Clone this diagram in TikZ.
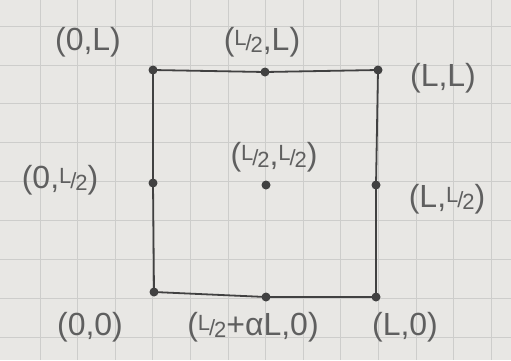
\documentclass[tikz,border=0pt]{standalone}
\usepackage{fontspec}
\setmainfont{Liberation Sans}
\definecolor{paper}{RGB}{232,231,228}
\definecolor{gridc}{RGB}{205,205,203}
\definecolor{ink}{RGB}{65,65,65}
\definecolor{pencil}{RGB}{95,95,95}
\newcommand\fr[2]{{\fontsize{22}{22}\selectfont\raisebox{0.4ex}{#1}\kern-0.05em/\kern-0.05em\raisebox{-0.2ex}{#2}}}
\tikzset{
  pt/.style={circle,fill=ink,inner sep=0pt,minimum size=9pt},
  lab/.style={text=pencil,font=\fontsize{32}{36}\selectfont,inner sep=1pt},
  side/.style={draw=ink,line width=1.8pt}
}
\begin{document}
\begin{tikzpicture}[x=1pt,y=-1pt]
\fill[paper] (0,0) rectangle (511,360);
\useasboundingbox (0,0) rectangle (511,360);
\foreach \i in {0,...,12} \draw[gridc,line width=0.8pt] ({40+37.6*\i},0) -- ({40+37.6*\i},360);
\foreach \j in {0,...,8} \draw[gridc,line width=0.8pt] (0,{26+38.9*\j}) -- (511,{26+38.9*\j});
% points
\node[pt] (a) at (153,70) {};
\node[pt] (b) at (265,72) {};
\node[pt] (c) at (378,70) {};
\node[pt] (d) at (153,183) {};
\node[pt] (e) at (266,185) {};
\node[pt] (f) at (376,185) {};
\node[pt] (g) at (154,292) {};
\node[pt] (h) at (266,297) {};
\node[pt] (i) at (376,297) {};
% square
\draw[side] (a.center) -- (b.center) -- (c.center) -- (f.center) -- (i.center) -- (h.center) -- (g.center) -- (d.center) -- cycle;
% labels
\node[lab] (la) at (88,42) {(0,L)};
\node[lab] (lb) at (262,42) {(\fr{L}{2},L)};
\node[lab] (lc) at (443,78) {(L,L)};
\node[lab] (ld) at (60,180) {(0,\fr{L}{2})};
\node[lab] (le) at (274,157) {(\fr{L}{2},\fr{L}{2})};
\node[lab] (lf) at (447,199) {(L,\fr{L}{2})};
\node[lab] (lg) at (90,327) {(0,0)};
\node[lab] (lh) at (253,327) {(\fr{L}{2}+αL,0)};
\node[lab] (li) at (405,327) {(L,0)};
\end{tikzpicture}
\end{document}
